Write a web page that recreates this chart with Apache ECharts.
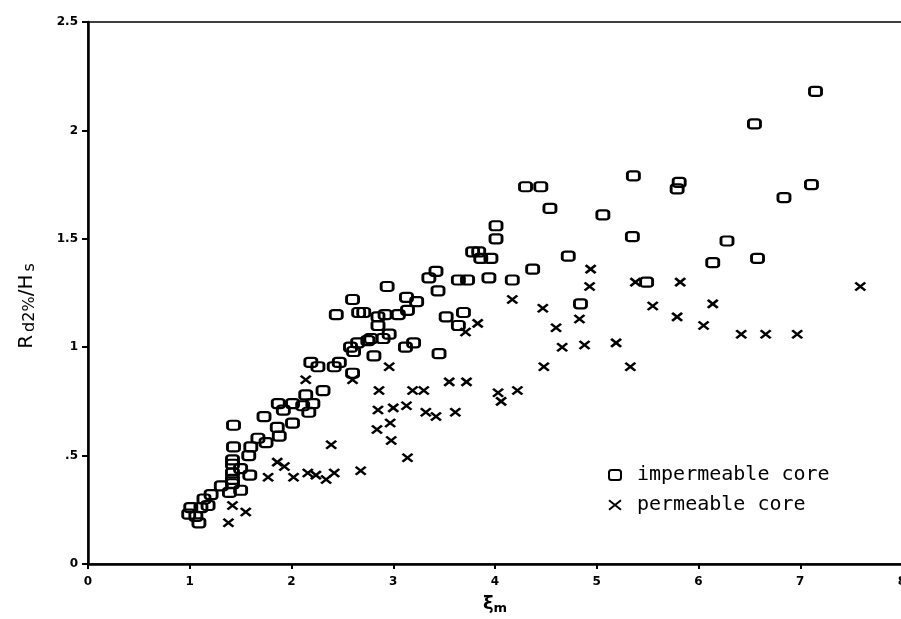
<!DOCTYPE html>
<html>
<head>
<meta charset="utf-8">
<script src="https://cdn.jsdelivr.net/npm/echarts@6/dist/echarts.min.js"></script>
<style>html,body{margin:0;padding:0;background:#fff}#c{width:901px;height:619px}</style>
</head>
<body>
<div id="c"></div>
<script>
// impermeable core (squares): [xi_m, Rd2%/Hs]
const impermeable = [
 [2.31,0.80],[2.14,0.78],[1.87,0.74],[2.01,0.74],[2.11,0.73],[2.21,0.74],[1.92,0.71],[2.17,0.70],
 [1.73,0.68],[2.01,0.65],[1.43,0.64],[1.86,0.63],[1.88,0.59],[1.67,0.58],[1.75,0.56],[1.60,0.54],
 [1.43,0.54],[1.58,0.50],[1.42,0.48],[1.42,0.46],[1.50,0.44],[1.42,0.42],[1.59,0.41],[1.42,0.39],
 [1.31,0.36],[1.42,0.37],[1.50,0.34],[1.39,0.33],[1.21,0.32],[1.14,0.30],[1.18,0.27],[1.11,0.26],
 [1.01,0.26],[0.99,0.23],[1.06,0.22],[1.09,0.19],
 [2.60,1.22],[2.44,1.15],[2.66,1.16],[2.71,1.16],[2.75,1.03],[2.65,1.02],[2.61,0.98],[2.19,0.93],
 [2.26,0.91],[2.42,0.91],[2.47,0.93],[2.60,0.88],
 [4.01,1.56],[4.01,1.50],[3.78,1.44],[3.84,1.44],[3.86,1.41],[3.96,1.41],[3.42,1.35],[3.35,1.32],
 [2.94,1.28],[3.64,1.31],[3.73,1.31],[3.94,1.32],[4.17,1.31],[3.44,1.26],[3.13,1.23],[3.23,1.21],
 [2.92,1.15],[3.05,1.15],[3.14,1.17],[3.52,1.14],[3.69,1.16],[3.64,1.10],[2.85,1.14],[2.85,1.10],
 [2.78,1.04],[2.90,1.04],[2.96,1.06],[2.58,1.00],[3.12,1.00],[3.20,1.02],[3.45,0.97],[2.81,0.96],
 [5.36,1.79],[5.81,1.76],[5.79,1.73],[4.30,1.74],[4.45,1.74],[4.54,1.64],[5.06,1.61],[5.35,1.51],
 [6.14,1.39],[4.72,1.42],[4.37,1.36],[5.49,1.30],[4.84,1.20],
 [7.15,2.18],[6.55,2.03],[7.11,1.75],[6.84,1.69],[6.28,1.49],[6.58,1.41]
];
// permeable core (crosses)
const permeable = [
 [2.14,0.85],[2.60,0.85],[2.39,0.55],[1.86,0.47],[1.93,0.45],[1.77,0.40],[2.02,0.40],[2.16,0.42],
 [2.24,0.41],[2.34,0.39],[2.42,0.42],[2.68,0.43],[1.42,0.27],[1.55,0.24],[1.38,0.19],
 [4.17,1.22],[3.83,1.11],[3.71,1.07],[2.96,0.91],[3.55,0.84],[3.72,0.84],[2.86,0.80],[3.19,0.80],
 [3.30,0.80],[4.03,0.79],[4.06,0.75],[4.22,0.80],[2.85,0.71],[3.00,0.72],[3.13,0.73],[3.32,0.70],
 [3.42,0.68],[3.61,0.70],[2.97,0.65],[2.84,0.62],[2.98,0.57],[3.14,0.49],
 [4.94,1.36],[4.93,1.28],[5.38,1.30],[5.82,1.30],[4.47,1.18],[5.55,1.19],[6.14,1.20],[5.79,1.14],
 [6.05,1.10],[4.60,1.09],[4.83,1.13],[4.66,1.00],[4.88,1.01],[5.19,1.02],[4.48,0.91],[5.33,0.91],
 [7.59,1.28],[6.42,1.06],[6.66,1.06],[6.97,1.06]
];
const seriesNames = ['impermeable core','permeable core'];
const yTickLabels = {0:'0',0.5:'.5',1:'1',1.5:'1.5',2:'2',2.5:'2.5'};

const chart = echarts.init(document.getElementById('c'));
const tickFont = {fontFamily:'DejaVu Sans', fontWeight:'bold', fontSize:12, color:'#000'};
chart.setOption({
  backgroundColor:'#fff',
  animation:false,
  grid:{left:88, top:22, width:814, height:542, show:true, borderColor:'#000', borderWidth:1.5,
        outerBoundsMode:'none', containLabel:false},
  legend:{
    orient:'vertical', left:603, top:460, itemGap:10, itemWidth:12, itemHeight:10,
    textStyle:{fontFamily:'DejaVu Sans Mono', fontSize:20, color:'#000', padding:[0,0,0,11]},
    data:seriesNames
  },
  xAxis:{
    type:'value', min:0, max:8, interval:1,
    name:'ξ{s|m}', nameLocation:'middle', nameGap:30,
    nameTextStyle:{fontFamily:'DejaVu Sans', fontWeight:'bold', fontSize:18, color:'#000',
      rich:{s:{fontFamily:'DejaVu Sans', fontWeight:'bold', fontSize:13, color:'#000', verticalAlign:'bottom', padding:[8,0,0,0]}}},
    axisLine:{lineStyle:{color:'#000', width:2.5}},
    axisTick:{inside:false, length:5, lineStyle:{color:'#000', width:2}},
    axisLabel:Object.assign({margin:12}, tickFont),
    splitLine:{show:false}
  },
  yAxis:{
    type:'value', min:0, max:2.5, interval:0.5,
    name:'R{s|d2%}/H{s|s}', nameLocation:'middle', nameGap:50, nameRotate:90,
    nameTextStyle:{fontFamily:'DejaVu Sans', fontSize:20, color:'#000', padding:[0,26,0,0],
      rich:{s:{fontFamily:'DejaVu Sans', fontSize:16, color:'#000', padding:[7,0,0,3]}}},
    axisLine:{lineStyle:{color:'#000', width:2.5}},
    axisTick:{inside:false, length:6, lineStyle:{color:'#000', width:2}},
    axisLabel:Object.assign({margin:10, formatter:v=>yTickLabels[v]!==undefined?yTickLabels[v]:v}, tickFont),
    splitLine:{show:false}
  },
  series:[
    {
      name:seriesNames[0], type:'scatter', data:impermeable,
      symbol:'roundRect', symbolSize:[12,9],
      itemStyle:{color:'rgba(255,255,255,0)', borderColor:'#000', borderWidth:2.5, opacity:1}
    },
    {
      name:seriesNames[1], type:'scatter', data:permeable,
      symbol:'path://M0,0L10,8M10,0L0,8', symbolSize:[10,8],
      itemStyle:{color:'rgba(0,0,0,0)', borderColor:'#000', borderWidth:2.5, opacity:1}
    }
  ]
});
</script>
</body>
</html>
